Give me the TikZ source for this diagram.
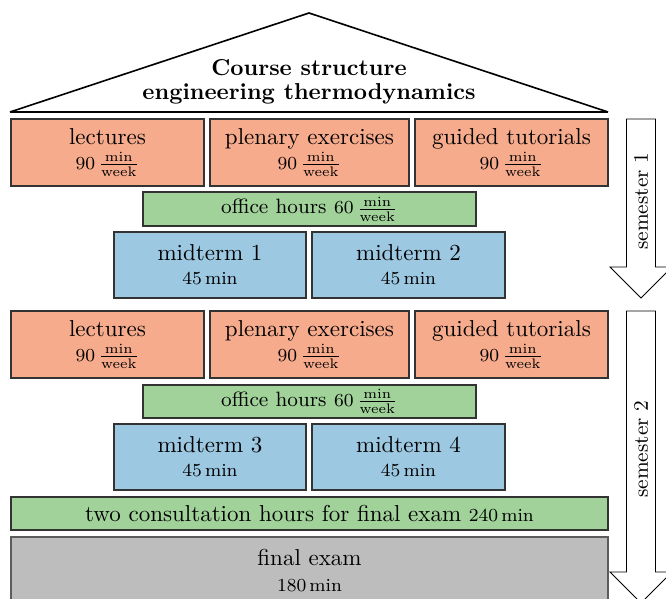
\documentclass[tikz,border=0pt]{standalone}
\usepackage{amsmath}
\definecolor{lecfill}{HTML}{F7AB8D}
\definecolor{offfill}{HTML}{A1D29A}
\definecolor{midfill}{HTML}{9DC8E2}
\definecolor{exfill}{HTML}{BDBDBD}
\definecolor{edge}{HTML}{333333}
% box from corner (x1,y1) to corner (x2,y2), in pixel units
\newcommand\blk[7]{%
  \node[#6, minimum width={(#4-#2)*0.4348pt}, minimum height={(#5-#3)*0.4348pt}]
    (#1) at ({(#2+#4)/2},{(#3+#5)/2}) {#7};}
\newcommand\perweek[1]{{\footnotesize #1\,$\frac{\mathrm{min}}{\mathrm{week}}$}}
\newcommand\mins[1]{{\footnotesize #1\,min}}
\begin{document}
\begin{tikzpicture}[x=0.4348pt,y=-0.4348pt,
  base/.style={draw=edge, line width=0.5pt, inner sep=0pt, outer sep=0pt, align=center},
  lecbox/.style={base, fill=lecfill},
  offbox/.style={base, fill=offfill},
  midbox/.style={base, fill=midfill},
  exbox/.style={base, fill=exfill, draw=edge!80},
  semarrow/.style={draw=black, fill=white, line width=0.4pt},
  roof/.style={draw=black, line width=0.7pt}]
\useasboundingbox (0,0) rectangle (666,598);

% roof with title
\coordinate (rl) at (10,112);
\coordinate (rt) at (309,13);
\coordinate (rr) at (608,112);
\draw[roof] (rl) -- (rt) -- (rr);
\draw[roof, line width=0.9pt] (rl) -- (rr);
\node[font=\bfseries, align=center] (title) at (309,82)
  {Course structure\\[-1.6pt]engineering thermodynamics};

% semester 1
\blk{lecA}{11}{119}{204}{186}{lecbox}{lectures\\[-1.3pt]\perweek{90}}
\blk{pleA}{210}{119}{409}{186}{lecbox}{plenary exercises\\[-1.3pt]\perweek{90}}
\blk{guiA}{415}{119}{608}{186}{lecbox}{guided tutorials\\[-1.3pt]\perweek{90}}
\blk{offA}{143}{192}{476}{226}{offbox}{{\small office hours} \perweek{60}}
\blk{midA}{114}{232}{306}{298}{midbox}{midterm 1\\[-1.6pt]\mins{45}}
\blk{midB}{312}{232}{505}{298}{midbox}{midterm 2\\[-1.6pt]\mins{45}}

% semester 2
\blk{lecB}{11}{311}{204}{378}{lecbox}{lectures\\[-1.3pt]\perweek{90}}
\blk{pleB}{210}{311}{409}{378}{lecbox}{plenary exercises\\[-1.3pt]\perweek{90}}
\blk{guiB}{415}{311}{608}{378}{lecbox}{guided tutorials\\[-1.3pt]\perweek{90}}
\blk{offB}{143}{385}{476}{418}{offbox}{{\small office hours} \perweek{60}}
\blk{midC}{114}{424}{306}{490}{midbox}{midterm 3\\[-1.6pt]\mins{45}}
\blk{midD}{312}{424}{505}{490}{midbox}{midterm 4\\[-1.6pt]\mins{45}}
\blk{cons}{11}{497}{608}{530}{offbox}{two consultation hours for final exam \mins{240}}
\blk{final}{11}{537}{608}{605}{exbox}{final exam\\[-0.7pt]\mins{180}}

% semester arrows
\draw[semarrow] (626.5,119) -- (655.5,119) -- (655.5,267) -- (672,267)
  -- (641,298) -- (610,267) -- (626.5,267) -- cycle;
\node[rotate=90, font=\small] (semA) at (641,201) {semester 1};
\draw[semarrow] (626.5,311) -- (655.5,311) -- (655.5,572) -- (672,572)
  -- (641,603) -- (610,572) -- (626.5,572) -- cycle;
\node[rotate=90, font=\small] (semB) at (641,449) {semester 2};
\end{tikzpicture}
\end{document}
